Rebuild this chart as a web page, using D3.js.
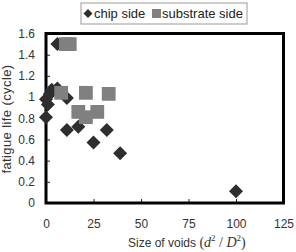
<!DOCTYPE html>
<html><head><meta charset="utf-8">
<script src="https://cdn.jsdelivr.net/npm/d3@7/dist/d3.min.js"></script>
<style>body{margin:0;background:#fff}svg{display:block}</style>
</head><body>
<script>
const chipX = [0, 1, 2, 3, 6, 11, 0, 6, 11, 17, 25, 32, 39, 100];
const chipY = [0.98, 0.93, 1.03, 1.07, 1.08, 0.99, 0.81, 1.5, 0.69, 0.72, 0.57, 0.69, 0.47, 0.11];
const subX = [10.5, 12.5, 8, 21, 33, 17, 21, 27];
const subY = [1.5, 1.5, 1.04, 1.04, 1.03, 0.86, 0.81, 0.86];
const xTicks = [0, 25, 50, 75, 100, 125];
const yTicks = [0, 0.2, 0.4, 0.6, 0.8, 1, 1.2, 1.4, 1.6];
const yTickLabels = ["0", "0.2", "0.4", "0.6", "0.8", "1", "1.2", "1.4", "1.6"];
const seriesNames = ["chip side", "substrate side"];
const colors = ["#2e2e2e", "#808080"];

const W = 296, H = 252;
const svg = d3.select("body").append("svg").attr("width", W).attr("height", H);
const font = "'Liberation Sans', Arial, sans-serif";

const x = d3.scaleLinear().domain([0, 125]).range([46, 283.5]);
const y = d3.scaleLinear().domain([0, 1.6]).range([203, 33.5]);

// axes with inside ticks
const gx = svg.append("g").attr("transform", `translate(0,${y(0)})`)
  .call(d3.axisBottom(x).tickValues(xTicks).tickSizeInner(-4).tickSizeOuter(0).tickPadding(16.5).tickFormat(d3.format("d")));
const gy = svg.append("g").attr("transform", `translate(${x(0)},0)`)
  .call(d3.axisLeft(y).tickValues(yTicks).tickSizeInner(-4).tickSizeOuter(0).tickPadding(11)
    .tickFormat((d, i) => yTickLabels[i]));
[gx, gy].forEach(g => {
  g.select(".domain").remove();
  g.selectAll("line").attr("stroke", "#222").attr("stroke-width", 1);
  g.selectAll("text").attr("font-family", font).attr("font-size", 12).attr("fill", "#333");
});

// frame
svg.append("rect").attr("x", x(0)).attr("y", y(1.6))
  .attr("width", x(125) - x(0)).attr("height", y(0) - y(1.6))
  .attr("fill", "none").attr("stroke", "#000").attr("stroke-width", 3);

const diamond = d3.symbol().type(d3.symbolSquare).size(98);
const square = d3.symbol().type(d3.symbolSquare).size(190);

svg.append("g").selectAll("path").data(chipX.map((v, i) => [v, chipY[i]])).join("path")
  .attr("d", diamond)
  .attr("transform", d => `translate(${x(d[0])},${y(d[1])}) rotate(45)`)
  .attr("fill", colors[0]);

svg.append("g").selectAll("path").data(subX.map((v, i) => [v, subY[i]])).join("path")
  .attr("d", square)
  .attr("transform", d => `translate(${x(d[0])},${y(d[1])})`)
  .attr("fill", colors[1]);

// legend
const lg = svg.append("g");
lg.append("rect").attr("x", 81).attr("y", 3).attr("width", 166).attr("height", 21)
  .attr("fill", "#fff").attr("stroke", "#999").attr("stroke-width", 1);
lg.append("path").attr("d", d3.symbol().type(d3.symbolSquare).size(40))
  .attr("transform", "translate(88,13.5) rotate(45)").attr("fill", colors[0]);
lg.append("text").attr("x", 94).attr("y", 18).text(seriesNames[0])
  .attr("font-family", font).attr("font-size", 13).attr("fill", "#222");
lg.append("rect").attr("x", 152).attr("y", 9).attr("width", 9).attr("height", 9).attr("fill", colors[1]);
lg.append("text").attr("x", 162).attr("y", 18).text(seriesNames[1])
  .attr("font-family", font).attr("font-size", 13).attr("fill", "#222");

// y title
svg.append("text").attr("transform", "translate(11,119) rotate(-90)")
  .attr("text-anchor", "middle").attr("font-family", font).attr("font-size", 13).attr("fill", "#333")
  .attr("letter-spacing", 0.4)
  .text("fatigue life (cycle)");

// x title
const xt = svg.append("text").attr("x", 128).attr("y", 247)
  .attr("font-family", font).attr("font-size", 12).attr("fill", "#333");
xt.append("tspan").text("Size of voids ");
const serif = "'Liberation Serif', 'Times New Roman', serif";
xt.append("tspan").attr("font-family", serif).attr("font-size", 14).text("(");
xt.append("tspan").attr("font-family", serif).attr("font-style", "italic").attr("font-size", 14).text("d");
xt.append("tspan").attr("font-family", serif).attr("font-size", 9).attr("dy", -6).text("2");
xt.append("tspan").attr("font-family", serif).attr("font-size", 14).attr("dy", 6).text(" / ");
xt.append("tspan").attr("font-family", serif).attr("font-style", "italic").attr("font-size", 14).text("D");
xt.append("tspan").attr("font-family", serif).attr("font-size", 9).attr("dy", -6).text("2");
xt.append("tspan").attr("font-family", serif).attr("font-size", 14).attr("dy", 6).text(")");
</script>
</body></html>
